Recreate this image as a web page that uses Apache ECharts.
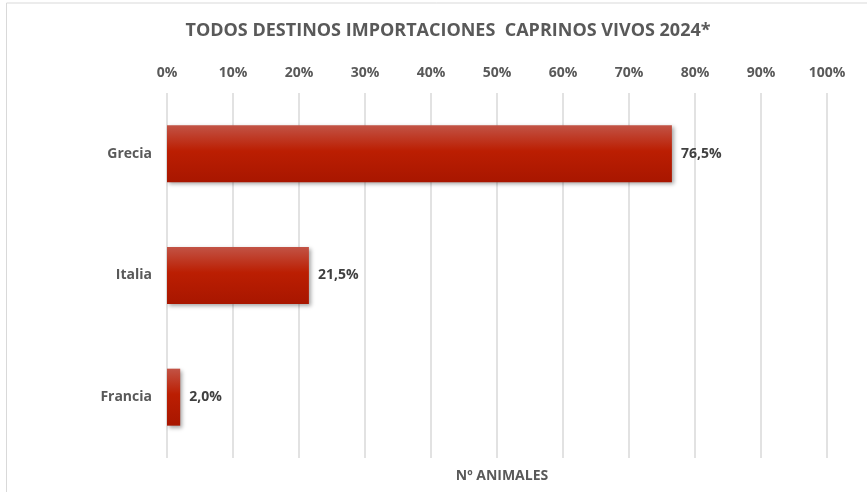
<!DOCTYPE html>
<html><head><meta charset="utf-8">
<script src="https://cdn.jsdelivr.net/npm/echarts@6/dist/echarts.min.js"></script>
<style>html,body{margin:0;padding:0;background:#fff}#c{width:867px;height:492px}</style>
</head><body><div id="c"></div>
<script>
const categories = ['Grecia', 'Italia', 'Francia'];
const values = [76.5, 21.5, 2.0];
const titleText = 'TODOS DESTINOS IMPORTACIONES  CAPRINOS VIVOS 2024*';
const axisName = 'Nº ANIMALES';

const chart = echarts.init(document.getElementById('c'));
const font = 'Open Sans, Lato, sans-serif';
chart.setOption({
  animation: false,
  title: [{
    text: titleText, left: 443, top: 17, textAlign: 'center',
    textStyle: {fontFamily: font, fontWeight: 'bold', fontSize: 18, color: '#595959'}
  }, {
    text: axisName, left: 497, top: 464, textAlign: 'center',
    textStyle: {fontFamily: font, fontWeight: 'bold', fontSize: 14, color: '#595959'}
  }],
  graphic: [
    {type: 'line', shape: {x1: 6.5, y1: 3, x2: 867, y2: 3}, style: {stroke: '#d9d9d9', lineWidth: 1}},
    {type: 'line', shape: {x1: 6.5, y1: 3, x2: 6.5, y2: 492}, style: {stroke: '#d9d9d9', lineWidth: 1}}
  ],
  grid: {left: 167, right: 40, top: 93, bottom: 34, containLabel: false},
  xAxis: {
    type: 'value', position: 'top', min: 0, max: 100, interval: 10,
    axisLine: {show: false}, axisTick: {show: false},
    axisLabel: {formatter: '{value}%', fontFamily: font, fontWeight: 'bold', fontSize: 14, color: '#595959', margin: 13},
    splitLine: {lineStyle: {color: '#d9d9d9', width: 1.5}}
  },
  yAxis: {
    type: 'category', data: categories, inverse: true,
    axisLine: {show: false}, axisTick: {show: false},
    axisLabel: {fontFamily: font, fontWeight: 'bold', fontSize: 14, color: '#595959', margin: 15}
  },
  series: [{
    type: 'bar', data: values, barWidth: 57,
    itemStyle: {
      color: new echarts.graphic.LinearGradient(0, 0, 0, 1, [
        {offset: 0, color: '#c25345'},
        {offset: 0.45, color: '#bb1e02'},
        {offset: 1, color: '#a81600'}
      ]),
      shadowColor: 'rgba(0,0,0,0.35)', shadowBlur: 4, shadowOffsetX: 2, shadowOffsetY: 2
    },
    label: {
      show: true, position: 'right', distance: 9,
      formatter: p => p.value.toFixed(1).replace('.', ',') + '%',
      fontFamily: font, fontWeight: 'bold', fontSize: 14, color: '#404040'
    }
  }]
});
</script></body></html>
